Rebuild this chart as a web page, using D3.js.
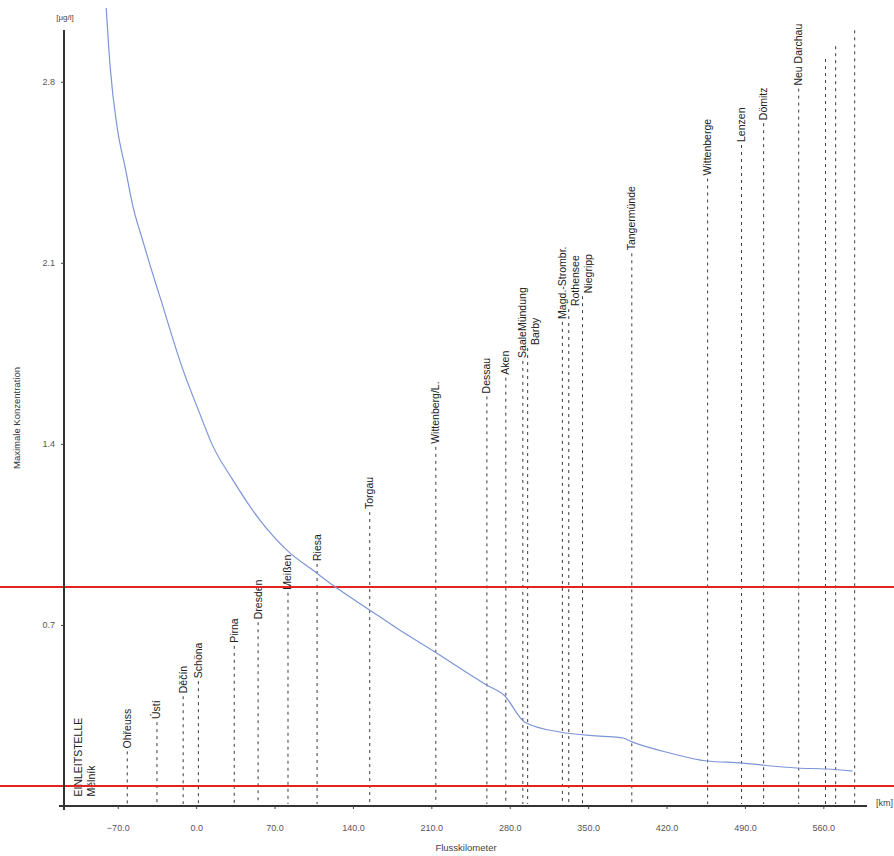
<!DOCTYPE html>
<html>
<head>
<meta charset="utf-8">
<script src="https://cdn.jsdelivr.net/npm/d3@7/dist/d3.min.js"></script>
<style>
  body { margin: 0; background: #fff; }
  svg { display: block; font-family: "Liberation Sans", Arial, sans-serif; }
</style>
</head>
<body>
<div id="chart"></div>
<script>
// Max concentration along the Elbe (river km)
var kmValues = [-80.3, -76.7, -70.5, -63.3, -56.2, -48.4, -41.2, -32.3, -11.75, 3.4, 14.1, 33.0,
  57.1, 81.2, 107.9, 122.2, 155.2, 179.3, 213.2, 259.6, 274.8, 293.5, 324.7, 360.4, 380.9,
  389.8, 422.8, 455.8, 488.0, 505.8, 536.1, 562.9, 586.1];
var concValues = [3.085, 2.853, 2.622, 2.467, 2.313, 2.196, 2.091, 1.968, 1.686, 1.515, 1.399, 1.259,
  1.104, 0.988, 0.900, 0.853, 0.757, 0.687, 0.595, 0.467, 0.429, 0.324, 0.286, 0.270, 0.263,
  0.247, 0.205, 0.174, 0.166, 0.158, 0.147, 0.143, 0.135];

// measuring stations
var stationNames = ["EINLEITSTELLE\nMělník", "Ohřeuss", "Ústí", "Děčín", "Schöna", "Pirna", "Dresden",
  "Meißen", "Riesa", "Torgau", "Wittenberg/L.", "Dessau", "Aken", "SaaleMündung", "Barby",
  "Magd.-Strombr.", "Rothensee", "Niegripp", "Tangermünde", "Wittenberge", "Lenzen", "Dömitz",
  "Neu Darchau", "", "", ""];
var stationKm = [-105, -61.5, -35, -11.6, 2, 34, 55.3, 82, 108, 155, 214, 259.6, 276.5, 291.7, 296,
  327, 332.7, 345, 389, 456.7, 487, 506.7, 538, 562, 571, 588];

var xTicks = [-70, 0, 70, 140, 210, 280, 350, 420, 490, 560];
var yTicks = [0.7, 1.4, 2.1, 2.8];
var redLines = [0.847, 0.077];

var svgWidth = 894;
var svgHeight = 856;

var svg = d3.select("#chart")
  .append("svg")
  .attr("width", svgWidth)
  .attr("height", svgHeight);

var xScale = d3.scaleLinear().domain([-118, 599]).range([64, 867]);
var yScale = d3.scaleLinear().domain([0, 3]).range([806, 30]);
// label bottoms follow a diagonal from lower left to upper right
var labelBase = d3.scaleLinear().domain([73, 855]).range([802, 30]);

// stations: dashed lines + rotated labels
var prevRight = -Infinity;
stationKm.forEach(function(km, i) {
  var lx = xScale(km);
  var lines = stationNames[i] ? stationNames[i].split("\n") : [];
  var cx = Math.max(lx, prevRight + 13);
  var by = labelBase(cx);
  if (lines.length) prevRight = cx + (lines.length - 1) * 13;
  else prevRight = cx;
  var topY = lines.length ? by + 3 : by;
  if (yScale(0) - topY > 10) {
    svg.append("line")
      .attr("x1", lx).attr("x2", lx)
      .attr("y1", topY).attr("y2", yScale(0) - 2)
      .attr("stroke", "#3a3a3a")
      .attr("stroke-width", 1)
      .attr("stroke-dasharray", "3,4");
  }
  lines.forEach(function(t, j) {
    var tx = cx + j * 13 + 3.5;
    svg.append("text")
      .attr("transform", "translate(" + tx + "," + by + ") rotate(-90)")
      .attr("font-size", "10.5px")
      .attr("fill", "#222")
      .text(t);
  });
});

// red reference lines
svg.selectAll(".red")
  .data(redLines)
  .enter().append("line")
  .attr("x1", 0).attr("x2", svgWidth)
  .attr("y1", function(d) { return yScale(d); })
  .attr("y2", function(d) { return yScale(d); })
  .attr("stroke", "#e3231d")
  .attr("stroke-width", 2);

// curve
var line = d3.line()
  .x(function(d, i) { return xScale(kmValues[i]); })
  .y(function(d) { return yScale(d); })
  .curve(d3.curveMonotoneX);
svg.append("path")
  .datum(concValues)
  .attr("d", line)
  .attr("fill", "none")
  .attr("stroke", "#7d95d8")
  .attr("stroke-width", 1.2);

// axes
var bottomAxis = d3.axisBottom(xScale).tickValues(xTicks).tickSize(3).tickPadding(16)
  .tickFormat(d3.format(".1f"));
var leftAxis = d3.axisLeft(yScale).tickValues(yTicks).tickSize(3).tickPadding(6)
  .tickFormat(d3.format(".1f"));

var gx = svg.append("g")
  .attr("transform", "translate(0," + yScale(0) + ")")
  .call(bottomAxis);
gx.select(".domain").attr("d", "M59,0H867").attr("stroke", "#333").attr("stroke-width", 2);
gx.selectAll(".tick line").attr("stroke", "#444");
gx.selectAll(".tick text").attr("font-size", "9px").attr("fill", "#555")
  .attr("font-family", "Liberation Sans, Arial, sans-serif");

var gy = svg.append("g")
  .attr("transform", "translate(" + xScale(-118) + ",0)")
  .call(leftAxis);
gy.select(".domain").attr("d", "M0,30V810").attr("stroke", "#333").attr("stroke-width", 2);
gy.selectAll(".tick line").attr("stroke", "#444");
gy.selectAll(".tick text").attr("font-size", "9px").attr("fill", "#555")
  .attr("font-family", "Liberation Sans, Arial, sans-serif");

// titles
svg.append("text")
  .attr("x", 65).attr("y", 20)
  .attr("text-anchor", "middle")
  .attr("font-size", "8px").attr("fill", "#444")
  .text("[µg/l]");
svg.append("text")
  .attr("x", 876).attr("y", 806)
  .attr("font-size", "9px").attr("fill", "#444")
  .text("[km]");
svg.append("text")
  .attr("transform", "translate(20,418) rotate(-90)")
  .attr("text-anchor", "middle")
  .attr("font-size", "9.5px").attr("fill", "#333")
  .text("Maximale Konzentration");
svg.append("text")
  .attr("x", 466).attr("y", 851)
  .attr("text-anchor", "middle")
  .attr("font-size", "9.5px").attr("fill", "#444")
  .text("Flusskilometer");
</script>
</body>
</html>
